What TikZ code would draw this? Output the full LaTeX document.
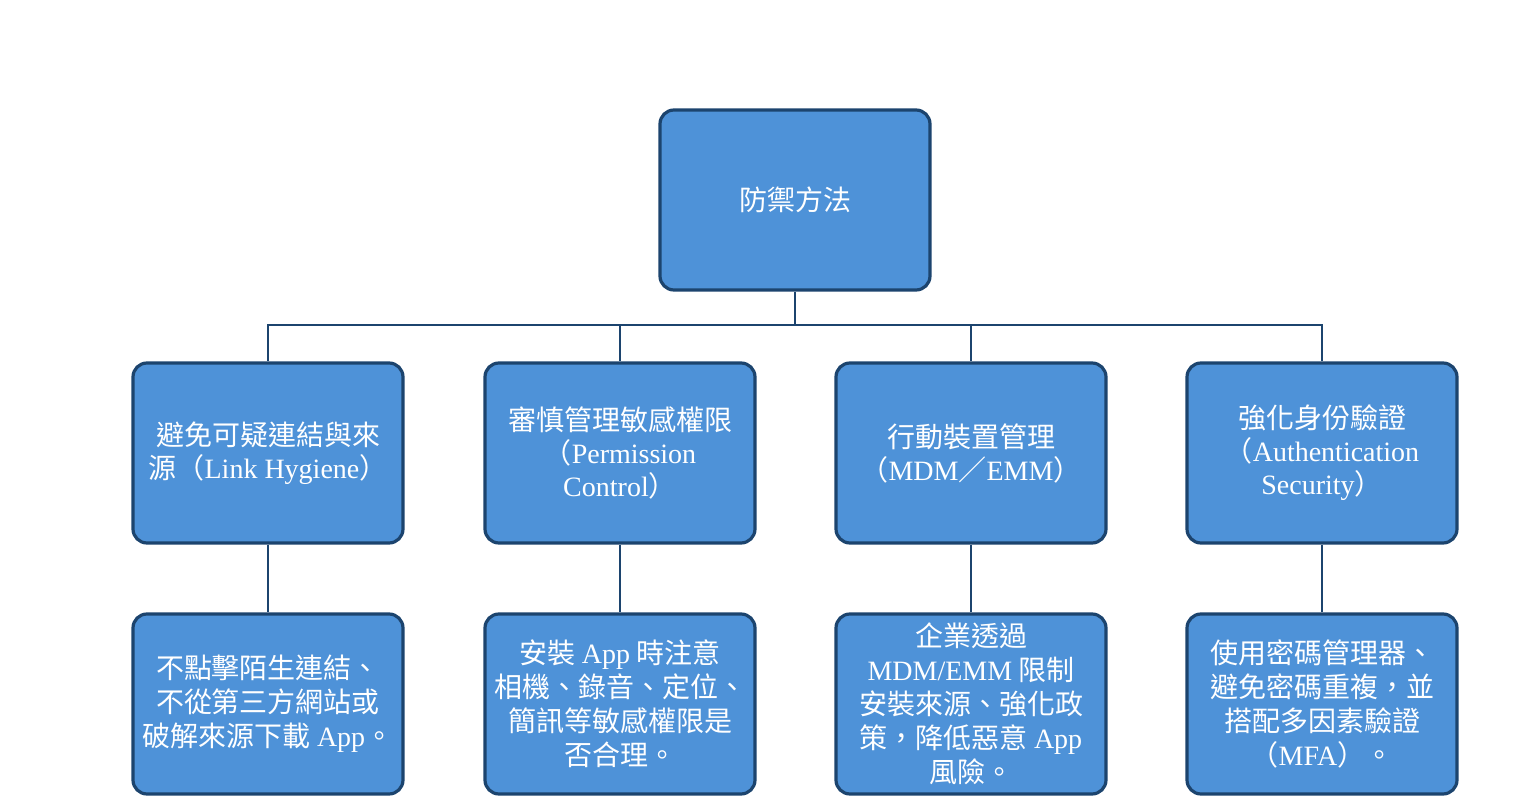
\documentclass[tikz,border=0pt]{standalone}
\usepackage{fontspec}
\setmainfont{Noto Sans CJK TC}
\newfontfamily\lat{Liberation Serif}
\definecolor{boxfill}{RGB}{78,146,216}
\definecolor{boxline}{RGB}{28,68,110}
\begin{document}
\begin{tikzpicture}[x=0.5pt,y=-0.5pt,
  box/.style={draw=boxline, line width=1.6pt, fill=boxfill, rounded corners=7pt,
    minimum width=135pt, minimum height=90pt, inner sep=1pt, align=center,
    text=white, font=\fontsize{14}{16.5}\selectfont},
  lowbox/.style={box, font=\fontsize{14}{17}\selectfont},
  link/.style={draw=boxline, line width=1.3pt}]
\useasboundingbox (0,0) rectangle (1522,807);
\node[box] (top) at (795,200) {防禦方法};
\node[box] (m1) at (268,453) {避免可疑連結與來\\源（{\lat Link Hygiene}）};
\node[box] (m2) at (620,453) {審慎管理敏感權限\\（{\lat Permission}\\{\lat Control}）};
\node[box] (m3) at (971,453) {行動裝置管理\\（{\lat MDM}／{\lat EMM}）};
\node[box] (m4) at (1322,453) {強化身份驗證\\（{\lat Authentication}\\{\lat Security}）};
\node[lowbox] (b1) at (268,704) {不點擊陌生連結、\\不從第三方網站或\\破解來源下載 {\lat App}。};
\node[lowbox] (b2) at (620,704) {安裝 {\lat App} 時注意\\相機、錄音、定位、\\簡訊等敏感權限是\\否合理。};
\node[lowbox] (b3) at (971,704) {企業透過\\{\lat MDM/EMM} 限制\\安裝來源、強化政\\策，降低惡意 {\lat App}\\風險。};
\node[lowbox] (b4) at (1322,704) {使用密碼管理器、\\避免密碼重複，並\\搭配多因素驗證\\（{\lat MFA}）。};
\coordinate (bus) at (795,325);
\draw[link] (top.south) -- (bus);
\draw[link] (bus) -| (m1.north);
\draw[link] (bus) -| (m2.north);
\draw[link] (bus) -| (m3.north);
\draw[link] (bus) -| (m4.north);
\draw[link] (m1.south) -- (b1.north);
\draw[link] (m2.south) -- (b2.north);
\draw[link] (m3.south) -- (b3.north);
\draw[link] (m4.south) -- (b4.north);
\end{tikzpicture}
\end{document}
